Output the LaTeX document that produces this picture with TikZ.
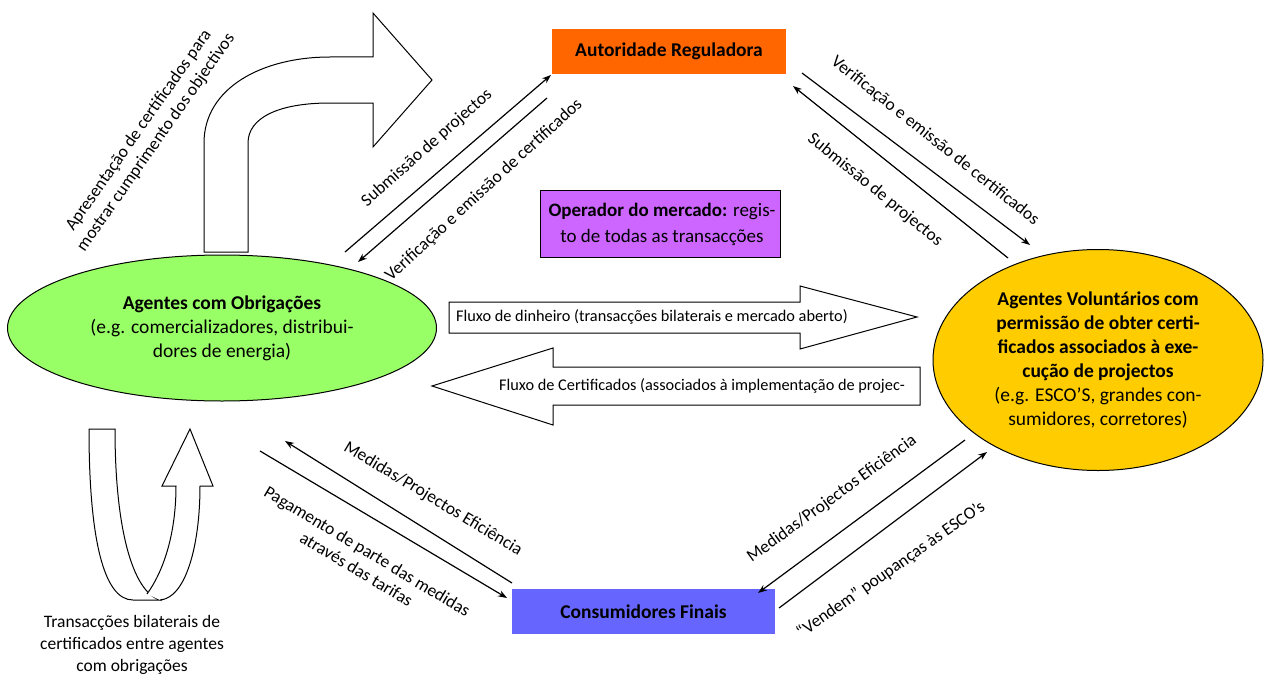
\documentclass[tikz,border=0pt]{standalone}
\usepackage{fontspec}
\setmainfont{Carlito}
\usetikzlibrary{arrows.meta,shapes.geometric}
\definecolor{regorange}{HTML}{FF6600}
\definecolor{mktpurple}{HTML}{CC66FF}
\definecolor{obgreen}{HTML}{99FF66}
\definecolor{volyellow}{HTML}{FFCC00}
\definecolor{conblue}{HTML}{6666FF}
\begin{document}
\begin{tikzpicture}[x=1pt,y=-1pt,
  lbl/.style={font=\fontsize{17.5}{21}\selectfont, inner sep=0pt, align=center},
  flowtext/.style={font=\fontsize{16.3}{20}\selectfont, inner sep=0pt, anchor=west},
  boxtext/.style={font=\fontsize{19.5}{24}\selectfont, align=center},
  entity/.style={draw=none, inner sep=0pt, boxtext},
  flow/.style={line width=1.2pt, -{Stealth[length=9pt,width=6.5pt]}},
  block/.style={draw, line width=1pt, fill=white, line join=miter}
]
\useasboundingbox (0,0) rectangle (1265,677);

% --- main actors ---
\node[entity, fill=regorange, minimum width=234pt, minimum height=45pt] (autor) at (669,51.5)
  {\bfseries Autoridade Reguladora};
\node[entity, draw=black, line width=1pt, fill=mktpurple, minimum width=240pt, minimum height=67pt] (oper) at (660,223.5) {};
\node[boxtext, font=\fontsize{19}{26}\selectfont, inner sep=0pt] (opertxt) at (662,224)
  {\textbf{Operador do mercado:} regis-\\to de todas as transacções};
\node[ellipse, draw, line width=1pt, fill=obgreen, inner sep=0pt,
  minimum width=429pt, minimum height=146pt, boxtext] (oblig) at (222,328)
  {\textbf{Agentes com Obrigações}\\(e.g. comercializadores, distribui-\\dores de energia)};
\node[ellipse, draw, line width=1pt, fill=volyellow, inner sep=0pt,
  minimum width=330pt, minimum height=221pt, boxtext] (volunt) at (1098,360)
  {\textbf{Agentes Voluntários com}\\\textbf{permissão de obter certi-}\\\textbf{ficados associados à exe-}\\\textbf{cução de projectos}\\(e.g. ESCO’S, grandes con-\\sumidores, corretores)};
\node[entity, fill=conblue, minimum width=263pt, minimum height=45pt] (consum) at (643.5,611.5)
  {\bfseries Consumidores Finais};

% --- bent arrow: certificates presented to the regulator ---
\draw[block] (204,252) -- (204,143) .. controls (204,88) and (262,57) .. (330,57)
  -- (373,57) -- (373,13) -- (432,80) -- (373,147) -- (373,103) -- (330,103)
  .. controls (278,103) and (248,118) .. (248,143) -- (248,252) -- cycle;
\node[lbl, rotate=55] (apres) at (147.5,136.5)
  {Apresentação de certificados para\\mostrar cumprimento dos objectivos};

% --- U-turn arrow: bilateral trades between obliged agents ---
\draw[block] (89,429) -- (115,429) .. controls (115,530) and (133,592) .. (160,600)
  -- (133,600) .. controls (104,600) and (89,540) .. (89,429) -- cycle;
\draw[block] (160,600) .. controls (186,598) and (200,545) .. (200,486)
  -- (213,486) -- (190,429) -- (162,486) -- (176,486)
  .. controls (176,535) and (163,572) .. (147,594);
\node[lbl, font=\fontsize{17.5}{22}\selectfont] (bilat) at (132,645)
  {Transacções bilaterais de\\certificados entre agentes\\com obrigações};

% --- block arrows for money and certificate flows ---
\draw[block] (449,302) -- (800,302) -- (800,286) -- (917,317) -- (800,349)
  -- (800,333) -- (449,333) -- cycle;
\node[flowtext] (money) at (456,317)
  {Fluxo de dinheiro (transacções bilaterais e mercado aberto)};
\draw[block] (920,367) -- (553,367) -- (553,348) -- (432,386) -- (553,425)
  -- (553,405) -- (920,405) -- cycle;
\node[flowtext] (certs) at (499,386)
  {Fluxo de Certificados (associados à implementação de projec-};

% --- end points of the thin connectors ---
\coordinate (a1) at (345,252);  \coordinate (a2) at (551,75);
\coordinate (b1) at (547,98);   \coordinate (b2) at (358,262);
\coordinate (c1) at (802,73);   \coordinate (c2) at (1030,245);
\coordinate (d1) at (1008,258); \coordinate (d2) at (793,86);
\coordinate (e1) at (512,583);  \coordinate (e2) at (285,441);
\coordinate (f1) at (260,451);  \coordinate (f2) at (507,598);
\coordinate (g1) at (965,440);  \coordinate (g2) at (758,593);
\coordinate (h1) at (779,608);  \coordinate (h2) at (987,452);

\draw[flow] (a1) -- (a2);
\draw[flow] (b1) -- (b2);
\draw[flow] (c1) -- (c2);
\draw[flow] (d1) -- (d2);
\draw[flow] (e1) -- (e2);
\draw[flow] (f1) -- (f2);
\draw[flow] (g1) -- (g2);
\draw[flow] (h1) -- (h2);

% --- connector labels ---
\node[lbl, rotate=41.5] (subL) at (427,148) {Submissão de projectos};
\node[lbl, rotate=42.5] (verL) at (484,190) {Verificação e emissão de certificados};
\node[lbl, rotate=-38.5] (verR) at (935,141) {Verificação e emissão de certificados};
\node[lbl, rotate=-39] (subR) at (875,190) {Submissão de projectos};
\node[lbl, rotate=-31] (medL) at (433,499) {Medidas/Projectos Eficiência};
\node[lbl, rotate=-31] (pagL) at (362,560) {Pagamento de parte das medidas\\através das tarifas};
\node[lbl, rotate=36] (medR) at (832,499) {Medidas/Projectos Eficiência};
\node[lbl, rotate=35] (vend) at (891,570) {“Vendem” poupanças às ESCO’s};
\end{tikzpicture}
\end{document}
